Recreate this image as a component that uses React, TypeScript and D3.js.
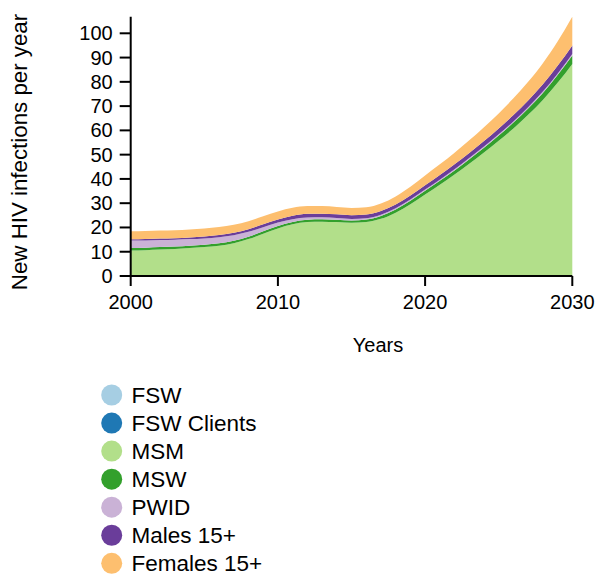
import React from "react";
import * as d3 from "d3";

const years = d3.range(2000, 2031);
const seriesNames = ["FSW", "FSW Clients", "MSM", "MSW", "PWID", "Males 15+", "Females 15+"];
const colors = ["#a6cee3", "#1f78b4", "#b2df8a", "#33a02c", "#cab2d6", "#6a3d9a", "#fdbf6f"];

const fsw = [0,0,0,0,0,0,0,0,0,0,0,0,0,0,0,0,0,0,0,0,0,0,0,0,0,0,0,0,0,0,0];
const fswClients = [0,0,0,0,0,0,0,0,0,0,0,0,0,0,0,0,0,0,0,0,0,0,0,0,0,0,0,0,0,0,0];
const msm = [10.5,10.65,10.9,11.15,11.5,11.9,12.5,13.5,15.2,17.4,19.6,21.3,22.2,22.4,22.2,21.9,22.2,23.55,26.1,29.6,33.6,37.6,41.8,46.2,50.85,55.7,60.8,66.4,72.55,79.6,87.4];
const msw = [1.0,1.0,1.0,1.0,1.0,1.0,1.0,1.0,1.0,1.0,1.0,1.0,1.0,1.0,1.0,1.0,1.1,1.2,1.3,1.4,1.5,1.6,1.7,1.9,2.0,2.2,2.4,2.6,2.9,3.2,3.5];
const pwid = [3.1,3.0,2.9,2.8,2.7,2.6,2.5,2.3,2.0,1.7,1.4,1.1,0.9,0.8,0.7,0.6,0.5,0.5,0.5,0.5,0.5,0.5,0.5,0.5,0.5,0.5,0.5,0.5,0.55,0.55,0.6];
const males = [0.5,0.55,0.6,0.65,0.7,0.8,0.9,1.0,1.1,1.2,1.3,1.4,1.5,1.5,1.5,1.5,1.5,1.55,1.6,1.7,1.8,1.9,2.0,2.1,2.25,2.4,2.6,2.8,3.0,3.25,3.5];
const females = [3.3,3.3,3.3,3.3,3.3,3.3,3.3,3.3,3.3,3.3,3.3,3.3,3.2,3.1,3.0,3.0,3.0,3.1,3.3,3.6,4.0,4.4,4.8,5.2,5.7,6.2,6.9,7.7,8.7,10.0,11.8];

const yTicks = [0,10,20,30,40,50,60,70,80,90,100];
const xTicks = [2000, 2010, 2020, 2030];

const allSeries = [fsw, fswClients, msm, msw, pwid, males, females];

export default function App() {
  const rows = years.map((yr, i) => {
    const r: any = { year: yr };
    seriesNames.forEach((n, k) => (r[n] = allSeries[k][i]));
    return r;
  });
  const stack = d3.stack<any>().keys(seriesNames)(rows);
  const maxTop = d3.max(stack[stack.length - 1], (d) => d[1]) as number;

  const x = d3.scaleLinear().domain([2000, 2030]).range([130.7, 572.3]);
  const y = d3.scaleLinear().domain([0, maxTop]).range([276, 276 - 2.427 * maxTop]);

  const area = d3
    .area<any>()
    .x((d) => x(d.data.year))
    .y0((d) => y(d[0]))
    .y1((d) => y(d[1]))
    .curve(d3.curveMonotoneX);

  const font = "'Liberation Sans', Arial, Helvetica, sans-serif";
  const x0 = x(2000);
  const y0 = y(0);

  return (
    <svg
      width={595}
      height={577}
      style={{ position: "absolute", left: 0, top: 0, background: "#fff" }}
      fontFamily={font}
    >
      <g>
        {stack.map((s, k) => (
          <path key={seriesNames[k]} d={area(s) || ""} fill={colors[k]} stroke="none" />
        ))}
      </g>
      {/* y axis */}
      <g>
        <line x1={x0} x2={x0} y1={y(maxTop)} y2={y0} stroke="#000" strokeWidth={2} />
        {yTicks.map((t) => (
          <g key={t} transform={`translate(0,${y(t)})`}>
            <line x1={x0 - 11} x2={x0} stroke="#000" strokeWidth={2} />
            <text x={x0 - 18} dy="0.35em" textAnchor="end" fontSize={20} fill="#000">
              {t}
            </text>
          </g>
        ))}
      </g>
      {/* x axis */}
      <g>
        <line x1={x0} x2={x(2030)} y1={y0} y2={y0} stroke="#000" strokeWidth={2} />
        {xTicks.map((t) => (
          <g key={t} transform={`translate(${x(t)},0)`}>
            <line y1={y0} y2={y0 + 10} stroke="#000" strokeWidth={2} />
            <text y={309} textAnchor="middle" fontSize={20} fill="#000">
              {t}
            </text>
          </g>
        ))}
      </g>
      <text x={378} y={352} textAnchor="middle" fontSize={20} fill="#000">
        Years
      </text>
      <text
        transform={`translate(27,152) rotate(-90)`}
        textAnchor="middle"
        fontSize={22.3}
        fill="#000"
      >
        New HIV infections per year
      </text>
      {/* legend */}
      <g>
        {seriesNames.map((n, k) => (
          <g key={n} transform={`translate(0,${395 + k * 28.05})`}>
            <circle cx={111.7} cy={0} r={10.5} fill={colors[k]} />
            <text x={131.5} dy="0.36em" fontSize={22.5} fill="#000">
              {n}
            </text>
          </g>
        ))}
      </g>
    </svg>
  );
}
